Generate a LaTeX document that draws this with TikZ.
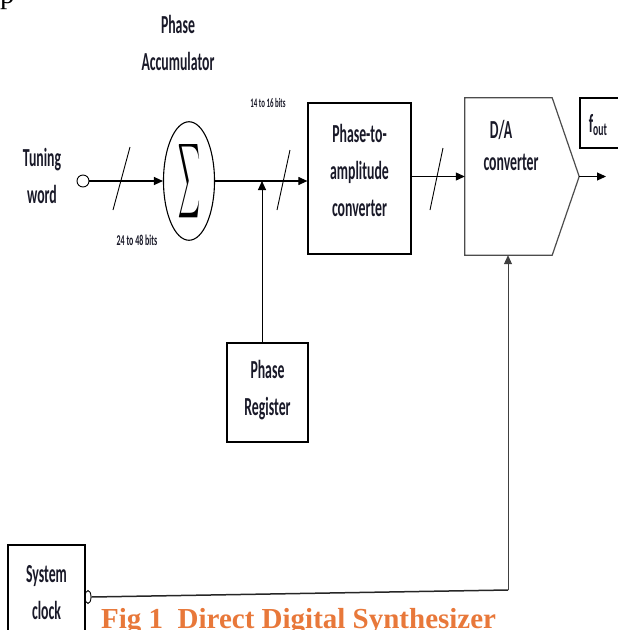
\documentclass[tikz,border=0pt]{standalone}
\usepackage{fontspec}
\usepackage{graphicx}
\setmainfont{Carlito}
\newfontfamily\capfont{Liberation Serif}
\usetikzlibrary{shapes.geometric,arrows.meta}
\newcommand\nw[1]{\scalebox{0.53}[1]{#1}}
\definecolor{capcol}{RGB}{232,120,58}
\definecolor{txtcol}{RGB}{25,25,40}
\begin{document}
\begin{tikzpicture}[x=1pt,y=-1pt,
  lbl/.style={font=\fontsize{26}{37}\selectfont\bfseries, align=center, inner sep=0pt, text=txtcol},
  blk/.style={draw, line width=1.2pt, inner sep=0pt},
  wire/.style={line width=1.1pt},
  arr/.style={wire, -{Triangle[length=9pt,width=8pt]}},
  slashmark/.style={line width=0.9pt},
  tiny/.style={font=\fontsize{15}{16}\selectfont\bfseries, inner sep=0pt, text=txtcol}]
\useasboundingbox (0,0) rectangle (618,630);

% fragment at top-left
\node[font=\capfont\fontsize{29}{30}\selectfont, anchor=base west, inner sep=0pt] (frag) at (0,3) {p};

% labels
\node[lbl] (acc) at (178,43) {\nw{Phase}\\\nw{Accumulator}};
\node[lbl] (tw) at (42,176) {\nw{Tuning}\\\nw{word}};
\node[tiny] (b1) at (268,103) {\nw{\fontsize{13}{14}\selectfont 14 to 16 bits}};
\node[tiny] (b2) at (137,240) {\nw{24 to 48 bits}};

% tuning input
\node[draw, circle, line width=0.9pt, minimum size=12pt, inner sep=0pt] (tin) at (83,181) {};
\node[draw, ellipse, line width=1.1pt, minimum width=51pt, minimum height=114pt, inner sep=0pt] (sig) at (189,181)
  {\resizebox{22pt}{55pt}{$\displaystyle\sum$}};
\draw[arr] (tin) -- (sig);
\draw[slashmark] (113,210) -- (130,147);

% phase-to-amplitude converter
\node[blk, minimum width=103pt, minimum height=151pt] (pa) at (359.5,178.5) {};
\node[lbl] (patxt) at (359.5,170) {\nw{Phase-to-}\\\nw{amplitude}\\\nw{converter}};
\coordinate (tap) at (262,181);
\draw[arr] (sig.east) -- (sig.east -| pa.west);
\draw[slashmark] (277,210) -- (290,150);

% phase register
\node[blk, minimum width=81pt, minimum height=99pt] (reg) at (267.5,392.5) {};
\node[lbl] (regtxt) at (267.5,390) {\nw{Phase}\\\nw{Register}};
\draw[arr, line width=0.9pt] (reg.north -| tap) -- (tap);

% D/A converter
\node[minimum width=114pt, minimum height=157pt, inner sep=0pt] (da) at (522,176.5) {};
\draw[line width=1.2pt, draw=black!70, line join=miter]
  (da.north west) -- ([xshift=-27pt]da.north east) -- (da.east)
  -- ([xshift=-27pt]da.south east) -- (da.south west) -- cycle;
\node[lbl] (datxt) at (511,145) {\nw{D/A}\hspace*{20pt}\\[-5pt]\nw{converter}};
\draw[arr] (pa.east |- da.west) -- (da.west);
\draw[slashmark] (430,210) -- (443,148);

% output
\coordinate (out) at (606,176.5);
\draw[arr] (da.east) -- (out);
\node[blk, minimum width=50pt, minimum height=50pt] (fout) at (605,123) {};
\node[lbl] (fouttxt) at (598,125) {\nw{f\textsubscript{out}}};

% system clock
\node[blk, minimum width=77pt, minimum height=100pt] (clk) at (46.5,595) {};
\node[lbl] (clktxt) at (46.5,593) {\nw{System}\\\nw{clock}};
\node[draw, ellipse, line width=0.9pt, minimum width=6pt, minimum height=13pt, inner sep=0pt] (cout) at (88,597) {};
\coordinate (corner) at (508,590);
\draw[wire, line width=1.5pt, draw=black!85] (cout.east) -- (corner);
\draw[arr, line width=0.9pt, draw=black!75] (corner) -- (corner |- da.south);

% caption
\node[font=\capfont\bfseries\fontsize{29}{30}\selectfont, text=capcol, anchor=base west, inner sep=0pt] (cap) at (101,628)
  {Fig 1\ \ Direct Digital Synthesizer};
\end{tikzpicture}
\end{document}
